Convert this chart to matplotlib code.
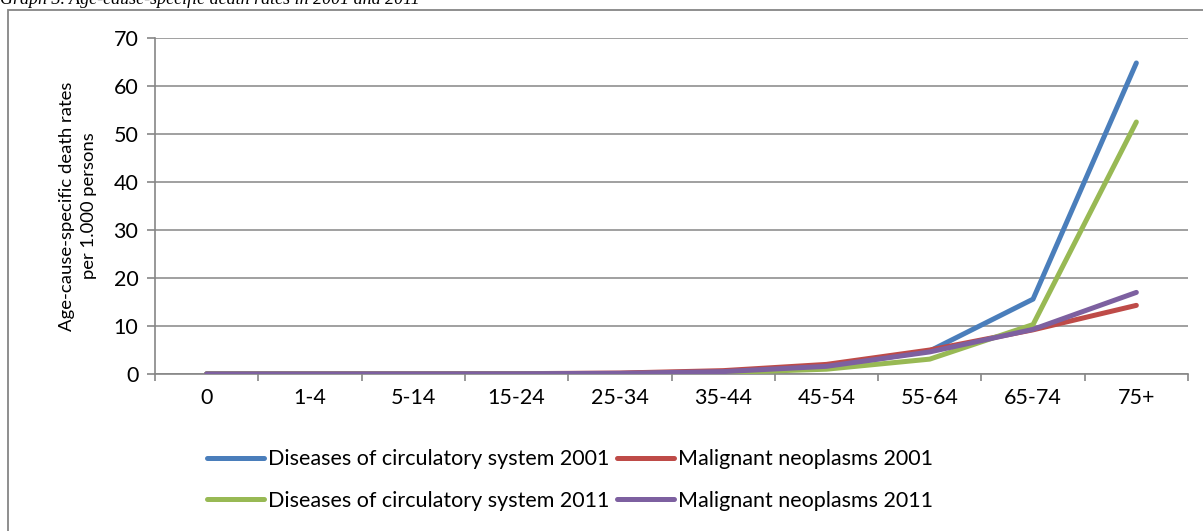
import numpy as np
import matplotlib
matplotlib.use('Agg')
import matplotlib.pyplot as plt
from matplotlib.patches import Rectangle

# === Data ===
age_groups = ['0', '1-4', '5-14', '15-24', '25-34', '35-44', '45-54', '55-64', '65-74', '75+']
circ_2001 = [0.05, 0.02, 0.02, 0.05, 0.1, 0.4, 1.5, 4.8, 15.6, 64.8]
malig_2001 = [0.02, 0.03, 0.04, 0.07, 0.2, 0.7, 2.0, 5.0, 9.2, 14.3]
circ_2011 = [0.03, 0.01, 0.01, 0.03, 0.07, 0.3, 1.0, 3.1, 10.3, 52.5]
malig_2011 = [0.02, 0.02, 0.03, 0.05, 0.15, 0.5, 1.6, 4.6, 9.3, 17.0]

series = [
    ("Diseases of circulatory system 2001", circ_2001, '#4A7EBB'),
    ("Diseases of circulatory system 2011", circ_2011, '#98B954'),
    ("Malignant neoplasms 2001", malig_2001, '#BE4B48'),
    ("Malignant neoplasms 2011", malig_2011, '#7D60A0'),
]
draw_order = [0, 2, 1, 3]

plt.rcParams['font.family'] = ['Lato', 'DejaVu Sans']
W, H = 1203, 531
fig = plt.figure(figsize=(W / 100, H / 100), dpi=100)

# outer chart frame (runs off right and bottom)
fig.patches.append(Rectangle((8 / W, -0.1), 1.2, 1 - 9.5 / H + 0.1, transform=fig.transFigure,
                             fill=False, edgecolor='#868686', linewidth=1.3))

# cropped title (only its lower part shows in the reference)
fig.text(0.0, 1 - 4.5 / H, "Graph 3. Age-cause-specific death rates in 2001 and 2011",
         family='Liberation Serif', style='italic', fontsize=13, ha='left', va='baseline')

ax = fig.add_axes([155 / W, 1 - 374 / H, (1188 - 155) / W, (374 - 38) / H])
x = np.arange(len(age_groups))
lines = {}
for i in draw_order:
    label, vals, col = series[i]
    ln, = ax.plot(x, vals, color=col, linewidth=3.6, solid_capstyle='round', label=label, zorder=3)
    lines[i] = ln

ax.set_xlim(-0.5, len(age_groups) - 0.5)
ax.set_ylim(0, 70)
ax.set_yticks(range(0, 71, 10))
ax.set_xticks(np.arange(len(age_groups) + 1) - 0.5, minor=False)
ax.set_xticklabels([])
ax.set_xticks(x, minor=True)
ax.set_xticklabels(age_groups, minor=True)
ax.tick_params(axis='x', which='minor', length=0, pad=10, labelsize=15.5)
ax.tick_params(axis='x', which='major', length=5, width=1.2, color='#868686', direction='out')
ax.tick_params(axis='y', length=6, width=1.2, color='#868686', direction='out', pad=6, labelsize=15.5)
ax.grid(axis='y', color='#868686', linewidth=1.1)
ax.set_axisbelow(True)
for s in ['top', 'right']:
    ax.spines[s].set_visible(False)
for s in ['left', 'bottom']:
    ax.spines[s].set_color('#868686')
    ax.spines[s].set_linewidth(1.2)

ax.set_ylabel("Age-cause-specific death rates\nper 1.000 persons", fontsize=13.3, labelpad=12,
              linespacing=1.45)

leg = fig.legend([lines[i] for i in range(4)], [series[i][0] for i in range(4)],
                 ncol=2, loc='center left', bbox_to_anchor=(207 / W, 1 - 480 / H),
                 frameon=False, fontsize=15.5, handlelength=2.65, handletextpad=0.2,
                 columnspacing=0.33, labelspacing=1.0, borderpad=0, borderaxespad=0)

plt.savefig('out.png', dpi=100)
